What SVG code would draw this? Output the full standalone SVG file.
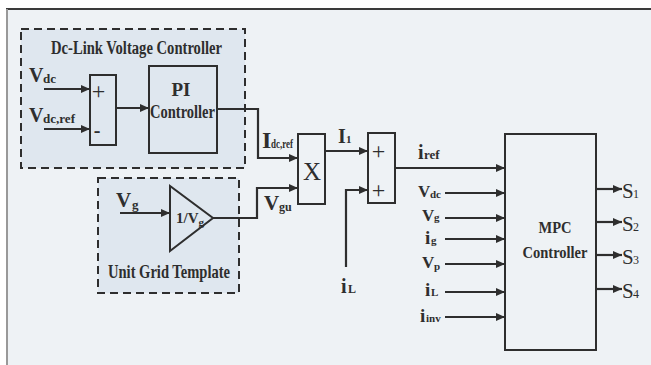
<svg xmlns="http://www.w3.org/2000/svg" width="651" height="365" viewBox="0 0 651 365">
<defs>
<marker id="ah" markerUnits="userSpaceOnUse" markerWidth="10" markerHeight="9" refX="9" refY="4" orient="auto">
<path d="M0,0 L9,4 L0,8 z" fill="#2e2e2e"/>
</marker>
<style>
.t{font-family:"Liberation Serif","Times New Roman",serif;font-weight:bold;fill:#2e2e2e}
.n{font-family:"Liberation Serif","Times New Roman",serif;fill:#2e2e2e}
.box{fill:none;stroke:#2e2e2e;stroke-width:2}
.dash{fill:#dfe7ef;stroke:#2e2e2e;stroke-width:2;stroke-dasharray:8 5}
.a{fill:none;stroke:#2e2e2e;stroke-width:2.2;marker-end:url(#ah)}
</style>
</defs>
<rect x="0" y="0" width="651" height="365" fill="#ffffff"/>
<rect x="7" y="9" width="644" height="356" fill="#eef2f5"/>
<line x1="6" y1="9" x2="651" y2="9" stroke="#3a3a3a" stroke-width="2"/>
<line x1="7" y1="9" x2="7" y2="365" stroke="#999999" stroke-width="2"/>

<g id="dclink">
<rect class="dash" x="21" y="29" width="224" height="139"/>
<text class="t" x="136.5" y="54" font-size="18" text-anchor="middle" textLength="171" lengthAdjust="spacingAndGlyphs">Dc-Link Voltage Controller</text>
</g>
<g id="unitgrid">
<rect class="dash" x="98" y="178" width="141" height="115"/>
<text class="t" x="169" y="278" font-size="19" text-anchor="middle" textLength="122" lengthAdjust="spacingAndGlyphs">Unit Grid Template</text>
</g>
<g id="sum1">
<rect class="box" x="90" y="75" width="26" height="70"/>
<text class="n" x="98.5" y="99" font-size="24" text-anchor="middle">+</text>
<text class="t" x="97" y="137" font-size="20" text-anchor="middle">-</text>
</g>
<g id="pi">
<rect class="box" x="149" y="66" width="68" height="87"/>
<text class="t" x="181" y="96" font-size="19" text-anchor="middle">PI</text>
<text class="t" x="182.5" y="118" font-size="19" text-anchor="middle" textLength="65" lengthAdjust="spacingAndGlyphs">Controller</text>
</g>
<g id="gain">
<polygon points="170,186 170,251 213,218" fill="none" stroke="#2e2e2e" stroke-width="2"/>
<text class="t" x="176" y="223" font-size="15">1/V<tspan font-size="11" dy="3">g</tspan></text>
</g>
<g id="mult">
<rect class="box" x="298" y="134" width="27" height="70"/>
<text class="n" x="312" y="180" font-size="25" text-anchor="middle">X</text>
</g>
<g id="sum2">
<rect class="box" x="368" y="133" width="27" height="70"/>
<text class="n" x="378.5" y="159" font-size="24" text-anchor="middle">+</text>
<text class="n" x="378.5" y="198" font-size="24" text-anchor="middle">+</text>
</g>
<g id="mpc">
<rect class="box" x="505" y="134" width="91" height="216"/>
<text class="t" x="555" y="233" font-size="17" text-anchor="middle" textLength="33" lengthAdjust="spacingAndGlyphs">MPC</text>
<text class="t" x="555" y="258" font-size="17" text-anchor="middle" textLength="65" lengthAdjust="spacingAndGlyphs">Controller</text>
</g>

<g id="connectors">
<line class="a" x1="44" y1="89" x2="90" y2="89"/>
<line class="a" x1="44" y1="129" x2="90" y2="129"/>
<line class="a" x1="116" y1="108" x2="149" y2="108"/>
<polyline class="a" points="217,109 258,109 258,158 298,158"/>
<line class="a" x1="120" y1="213" x2="170" y2="213"/>
<polyline class="a" points="213,218 257,218 257,188 298,188"/>
<line class="a" x1="325" y1="151" x2="368" y2="151"/>
<polyline class="a" points="346,267 346,190 368,190"/>
<line class="a" x1="395" y1="168" x2="505" y2="168"/>
<line class="a" x1="445" y1="193" x2="505" y2="193"/>
<line class="a" x1="445" y1="218" x2="505" y2="218"/>
<line class="a" x1="445" y1="239" x2="505" y2="239"/>
<line class="a" x1="445" y1="264" x2="505" y2="264"/>
<line class="a" x1="445" y1="292" x2="505" y2="292"/>
<line class="a" x1="445" y1="317" x2="505" y2="317"/>
<line class="a" x1="596" y1="189" x2="622" y2="189"/>
<line class="a" x1="596" y1="222" x2="622" y2="222"/>
<line class="a" x1="596" y1="255" x2="622" y2="255"/>
<line class="a" x1="596" y1="289" x2="622" y2="289"/>
</g>

<g id="labels">
<text class="t" x="29" y="82" font-size="20">V</text><text class="t" x="43" y="83" font-size="13">dc</text>
<text class="t" x="29" y="122" font-size="20">V</text><text class="t" x="43" y="123" font-size="13" textLength="32" lengthAdjust="spacingAndGlyphs">dc,ref</text>
<text class="t" x="116" y="207" font-size="21">V</text><text class="t" x="132" y="209" font-size="13">g</text>
<text class="t" x="262" y="148" font-size="24">I</text><text class="t" x="271" y="148" font-size="12" textLength="22" lengthAdjust="spacingAndGlyphs">dc,ref</text>
<text class="t" x="264" y="210" font-size="21">V</text><text class="t" x="279" y="211" font-size="12">gu</text>
<text class="t" x="338" y="143" font-size="20">I</text><text class="t" x="346" y="143" font-size="11">1</text>
<text class="t" x="418" y="159" font-size="20">i</text><text class="t" x="424" y="159" font-size="13">ref</text>
<text class="t" x="341" y="293" font-size="20">i</text><text class="t" x="348" y="293" font-size="12">L</text>
<text class="t" x="418" y="197" font-size="17">V</text><text class="t" x="430" y="198" font-size="11">dc</text>
<text class="t" x="422" y="221" font-size="17">V</text><text class="t" x="434" y="221" font-size="11">g</text>
<text class="t" x="425" y="244" font-size="19">i</text><text class="t" x="431" y="244" font-size="11">g</text>
<text class="t" x="422" y="268" font-size="17">V</text><text class="t" x="434" y="270" font-size="11">p</text>
<text class="t" x="425" y="296" font-size="19">i</text><text class="t" x="431" y="296" font-size="11">L</text>
<text class="t" x="420" y="322" font-size="19">i</text><text class="t" x="426" y="322" font-size="11">inv</text>
<text class="n" x="622" y="198" font-size="21">S</text><text class="n" x="633" y="198" font-size="12">1</text>
<text class="n" x="622" y="231" font-size="21">S</text><text class="n" x="633" y="231" font-size="12">2</text>
<text class="n" x="622" y="264" font-size="21">S</text><text class="n" x="633" y="264" font-size="12">3</text>
<text class="n" x="622" y="298" font-size="21">S</text><text class="n" x="633" y="298" font-size="12">4</text>
</g>
</svg>
